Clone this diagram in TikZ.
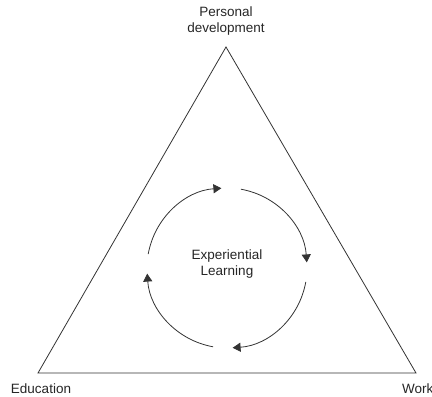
\documentclass[tikz,border=0pt]{standalone}
\usepackage{fontspec}
\setmainfont{Liberation Sans}
\usetikzlibrary{arrows.meta,calc}
\begin{document}
\begin{tikzpicture}[x=1pt,y=1pt,
  lbl/.style={font=\fontsize{13.5}{16.5}\selectfont, text=black!85, align=center, inner sep=0pt},
  edge/.style={line width=0.8pt, draw=black!80},
  cyc/.style={line width=0.8pt, draw=black!80, -{Triangle[length=8pt,width=9pt]}}]
\useasboundingbox (0,0) rectangle (432,397);
\coordinate (T) at (226,350);
\coordinate (L) at (38,24);
\coordinate (R) at (416,24);
\coordinate (C) at (227,129);
\draw[edge] (T) -- (L) -- (R) -- cycle;
\node[lbl] (pd) at (226,376) {Personal\\development};
\node[lbl] (ed) at (41,8) {Education};
\node[lbl, anchor=west] (wk) at (402,8) {Work};
\node[lbl] (el) at (227,133) {Experiential\\Learning};
\foreach \k in {1,0,-1,-2} {
  \draw[cyc] ($(C)+({90*\k+80}:80)$) arc[start angle={90*\k+80}, end angle={90*\k+4}, radius=80];
}
\end{tikzpicture}
\end{document}
